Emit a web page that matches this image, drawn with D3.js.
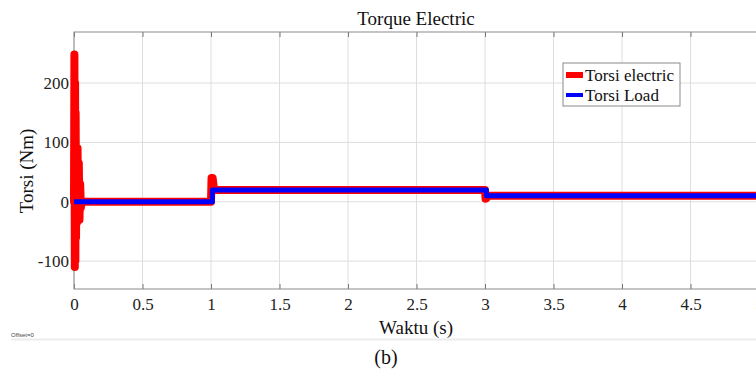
<!DOCTYPE html>
<html>
<head>
<meta charset="utf-8">
<script src="https://cdn.jsdelivr.net/npm/d3@7"></script>
<style>
  body { margin: 0; background: #fff; }
  svg text { font-family: "Liberation Serif", "Times New Roman", serif; }
</style>
</head>
<body>
<svg id="chart" width="756" height="376"></svg>
<script>
// time (s) and torque values
let elecTime = [0, 0.003, 0.006, 0.008, 0.010, 0.012, 0.015, 0.018, 0.022, 0.026, 0.030, 0.035, 0.040, 0.045, 0.050, 0.055,
    1.0, 1.004, 1.012, 1.02, 1.03, 3.0, 3.004, 3.012, 3.02, 5.0];
let elecValue = [0, 248, -110, 200, -100, 150, -60, 92, -35, 90, -30, 65, -30, 30, -10, 0,
    0, 40, 40, 24, 20, 20, 5, 6, 10, 10];
let loadTime = [0, 1.01, 1.01, 3.01, 3.01, 5.0];
let loadValue = [0, 0, 20, 20, 10, 10];
let xTicks = [0, 0.5, 1, 1.5, 2, 2.5, 3, 3.5, 4, 4.5, 5];
let yTicks = [-100, 0, 100, 200];
let legendLabels = ["Torsi electric", "Torsi Load"];

let svg = d3.select('#chart');
let plotLeft = 74, plotRight = 759, plotTop = 32, plotBottom = 289;
let serif = '"Liberation Serif", "Times New Roman", serif';

let x = d3.scaleLinear().domain([0, 5]).range([plotLeft, plotRight]);
let y = d3.scaleLinear().domain([-147, 286]).range([plotBottom, plotTop]);

// grid
svg.append('g')
    .selectAll('line')
    .data(xTicks)
    .join('line')
    .attr('x1', d => x(d)).attr('x2', d => x(d))
    .attr('y1', plotTop).attr('y2', plotBottom)
    .attr('stroke', '#dedede').attr('stroke-width', 1);
svg.append('g')
    .selectAll('line')
    .data(yTicks)
    .join('line')
    .attr('x1', plotLeft).attr('x2', plotRight)
    .attr('y1', d => y(d)).attr('y2', d => y(d))
    .attr('stroke', '#dedede').attr('stroke-width', 1);

// axes
let xAxis = d3.axisBottom(x).tickValues(xTicks).tickSize(-5).tickPadding(9).tickFormat(d => String(d));
let yAxis = d3.axisLeft(y).tickValues(yTicks).tickSize(-5).tickPadding(5).tickFormat(d => String(d));

svg.append('g')
    .attr('transform', 'translate(0,' + plotBottom + ')')
    .call(xAxis)
    .attr('font-family', serif)
    .call(g => g.select('.domain').remove())
    .call(g => g.selectAll('line').attr('stroke', '#777'))
    .call(g => g.selectAll('text').attr('font-size', 17).attr('fill', '#222')
        .style('font-family', serif));

svg.append('g')
    .attr('transform', 'translate(0,' + plotTop + ')')
    .call(d3.axisTop(x).tickValues(xTicks).tickSize(-5).tickFormat(''))
    .call(g => g.select('.domain').remove())
    .call(g => g.selectAll('line').attr('stroke', '#777'));

svg.append('g')
    .attr('transform', 'translate(' + plotLeft + ',0)')
    .call(yAxis)
    .attr('font-family', serif)
    .call(g => g.select('.domain').remove())
    .call(g => g.selectAll('line').attr('stroke', '#777'))
    .call(g => g.selectAll('text').attr('font-size', 17).attr('fill', '#222')
        .style('font-family', serif));

// axis box
svg.append('rect')
    .attr('x', plotLeft).attr('y', plotTop)
    .attr('width', plotRight - plotLeft).attr('height', plotBottom - plotTop)
    .attr('fill', 'none').attr('stroke', '#8a8a8a').attr('stroke-width', 1);

// series
let elecData = elecTime.map((t, i) => ({ t: t, v: elecValue[i] }));
let loadData = loadTime.map((t, i) => ({ t: t, v: loadValue[i] }));
let line = d3.line().x(d => x(d.t)).y(d => y(d.v));

svg.append('path')
    .datum(elecData)
    .attr('d', line)
    .attr('fill', 'none')
    .attr('stroke', '#ff0000')
    .attr('stroke-width', 8)
    .attr('stroke-linejoin', 'round')
    .attr('stroke-linecap', 'round');

svg.append('path')
    .datum(loadData)
    .attr('d', line)
    .attr('fill', 'none')
    .attr('stroke', '#0000ff')
    .attr('stroke-width', 5)
    .attr('stroke-linejoin', 'round');

// legend
let legend = svg.append('g').attr('transform', 'translate(563,63)');
legend.append('rect')
    .attr('width', 117).attr('height', 43)
    .attr('fill', '#fff').attr('stroke', '#8a8a8a');
let legendColors = ['#ff0000', '#0000ff'];
let legendWidths = [6, 4];
legend.selectAll('line')
    .data(legendLabels)
    .join('line')
    .attr('x1', 3).attr('x2', 20)
    .attr('y1', (d, i) => 12 + i * 20).attr('y2', (d, i) => 12 + i * 20)
    .attr('stroke', (d, i) => legendColors[i])
    .attr('stroke-width', (d, i) => legendWidths[i]);
legend.selectAll('text')
    .data(legendLabels)
    .join('text')
    .attr('x', 22)
    .attr('y', (d, i) => 18 + i * 20)
    .attr('font-size', 17)
    .attr('fill', '#111')
    .text(d => d);

// titles
svg.append('text')
    .attr('x', 416).attr('y', 25)
    .attr('text-anchor', 'middle')
    .attr('font-size', 19)
    .attr('fill', '#111')
    .text('Torque Electric');

svg.append('text')
    .attr('x', 416).attr('y', 334)
    .attr('text-anchor', 'middle')
    .attr('font-size', 19)
    .attr('fill', '#111')
    .text('Waktu (s)');

svg.append('text')
    .attr('transform', 'translate(33,171) rotate(-90)')
    .attr('text-anchor', 'middle')
    .attr('font-size', 19)
    .attr('fill', '#111')
    .text('Torsi (Nm)');

svg.append('text')
    .attr('x', 11).attr('y', 337)
    .attr('font-size', 6)
    .style('font-family', '"Liberation Sans", sans-serif')
    .attr('fill', '#444')
    .text('Offset=0');

svg.append('line')
    .attr('x1', 11).attr('x2', 756)
    .attr('y1', 339.5).attr('y2', 339.5)
    .attr('stroke', '#ececec').attr('stroke-width', 2);

svg.append('text')
    .attr('x', 386).attr('y', 364)
    .attr('text-anchor', 'middle')
    .attr('font-size', 20)
    .attr('fill', '#111')
    .text('(b)');
</script>
</body>
</html>
